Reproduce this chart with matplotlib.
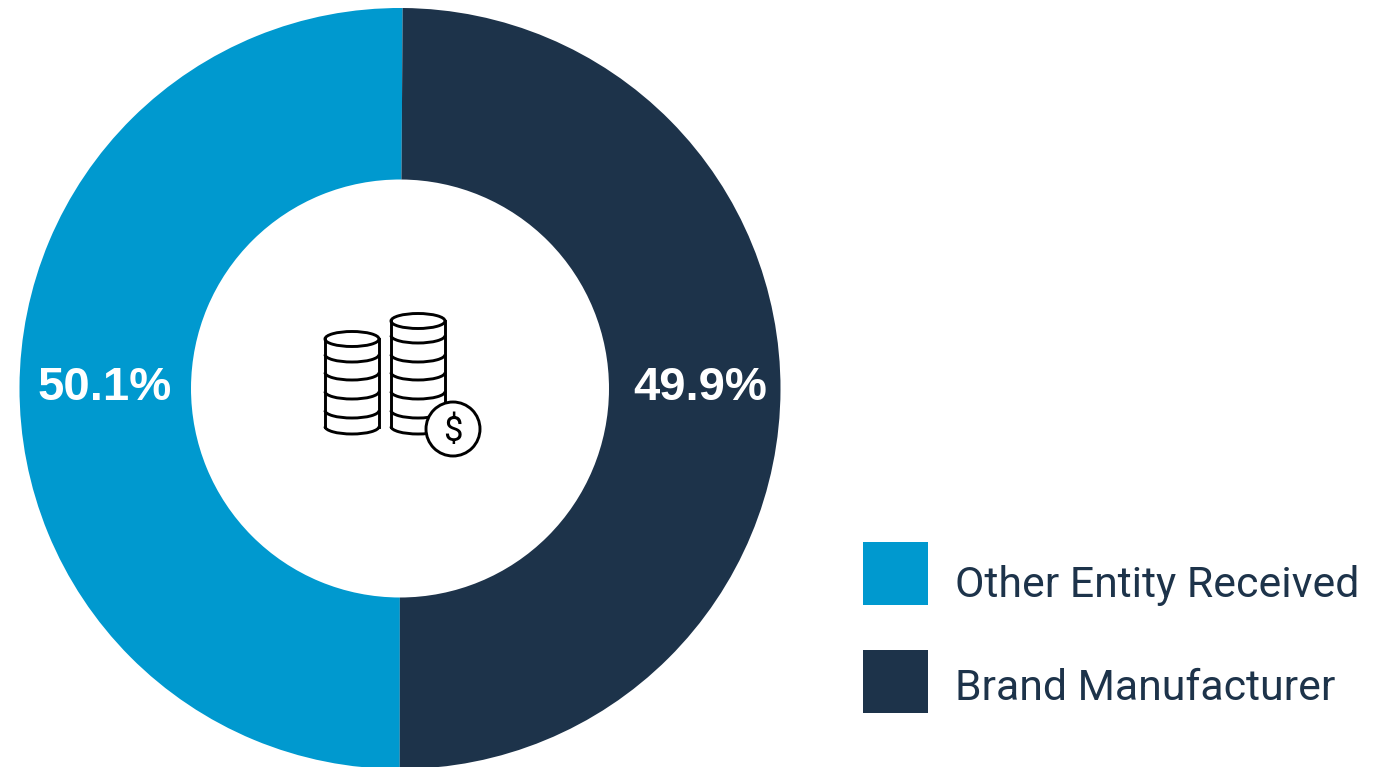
import matplotlib.pyplot as plt
from matplotlib.patches import Arc, Circle, Ellipse, Rectangle

# values
labels = ['Other Entity Received', 'Brand Manufacturer']
shares = [50.1, 49.9]
colors = ['#0099CF', '#1D334A']

W, H = 1373, 767
INK = 'black'
ICON_LW = 2.1


def draw_stack(ax, left, right, top_y, band_bottoms):
    """one stack of coins, pixel coordinates with y going down"""
    cx = (left + right) / 2
    rx = (right - left) / 2
    ry = 7.5
    ax.add_patch(Ellipse((cx, top_y), rx * 2, ry * 2, fc='white', ec=INK, lw=ICON_LW, zorder=5))
    for b in band_bottoms:
        ax.add_patch(Arc((cx, b - ry), rx * 2, ry * 2, theta1=0, theta2=180, ec=INK, lw=ICON_LW, zorder=5))
    ax.plot([left, left], [top_y, band_bottoms[-1] - ry], color=INK, lw=ICON_LW, zorder=5)
    ax.plot([right, right], [top_y, band_bottoms[-1] - ry], color=INK, lw=ICON_LW, zorder=5)


fig = plt.figure(figsize=(W / 100, H / 100), dpi=100)
ax = fig.add_axes([0, 0, 1, 1])

# y axis is flipped so pixels read like the image, hence counterclock=False
ax.pie(shares, colors=colors, center=(400, 388.5), radius=380.5, startangle=-89.6,
       counterclock=False, wedgeprops={'width': 171.5, 'linewidth': 0}, frame=True)
ax.set_xlim(0, W)
ax.set_ylim(H, 0)
ax.set_aspect('equal')
ax.axis('off')

# percentages on the ring
ax.text(104.5, 388, f'{shares[0]}%', color='white', fontsize=34, fontweight='bold',
        family='Liberation Sans', ha='center', va='center')
ax.text(700, 388, f'{shares[1]}%', color='white', fontsize=34, fontweight='bold',
        family='Liberation Sans', ha='center', va='center')

# coins icon in the middle
draw_stack(ax, 325, 379, 339, [362, 380, 399, 418, 434])
draw_stack(ax, 391, 445, 321, [343, 362, 380, 399, 418, 434])
ax.add_patch(Circle((453, 429), 27, fc='white', ec=INK, lw=ICON_LW, zorder=6))
ax.text(453, 431, '$', color=INK, fontsize=25, family='Roboto',
        ha='center', va='center', zorder=7)

# legend
for lab, col, y0, ty in zip(labels, colors, [542, 650], [581, 684.5]):
    ax.add_patch(Rectangle((863, y0), 65, 63, fc=col, ec='none'))
    ax.text(955, ty, lab, color=colors[1], fontsize=30.8, family='Roboto',
            ha='left', va='center_baseline')

fig.savefig('out.png', dpi=100)
